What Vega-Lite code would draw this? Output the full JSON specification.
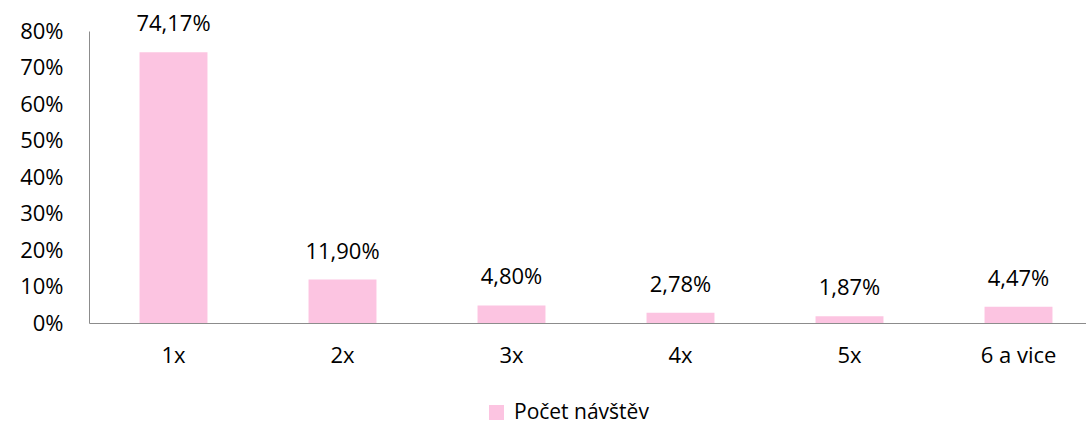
{
  "$schema": "https://vega.github.io/schema/vega-lite/v6.json",
  "width": 1014,
  "height": 292,
  "autosize": "none",
  "padding": {"left": 89, "top": 31, "right": -17, "bottom": 101},
  "background": "white",
  "config": {
    "locale": {"number": {"decimal": ",", "thousands": " ", "grouping": [3], "currency": ["", " Kč"]}},
    "view": {"stroke": null},
    "font": "Open Sans"
  },
  "data": {"values": [
    {"kat": "1x", "podil": 0.7417, "serie": "Počet návštěv"},
    {"kat": "2x", "podil": 0.1190, "serie": "Počet návštěv"},
    {"kat": "3x", "podil": 0.0480, "serie": "Počet návštěv"},
    {"kat": "4x", "podil": 0.0278, "serie": "Počet návštěv"},
    {"kat": "5x", "podil": 0.0187, "serie": "Počet návštěv"},
    {"kat": "6 a vice", "podil": 0.0447, "serie": "Počet návštěv"}
  ]},
  "encoding": {
    "x": {"field": "kat", "type": "nominal", "sort": null,
      "scale": {"paddingInner": 0.598, "paddingOuter": 0.299},
      "axis": {"title": null, "labelAngle": 0, "ticks": false, "domainColor": "#8c8c8c", "labelFontSize": 22, "labelColor": "#000000", "labelPadding": 22, "labelFont": "Open Sans"}},
    "y": {"field": "podil", "type": "quantitative",
      "scale": {"domain": [0, 0.8]},
      "axis": {"title": null, "format": ".0%", "values": [0, 0.1, 0.2, 0.3, 0.4, 0.5, 0.6, 0.7, 0.8], "grid": false, "ticks": false, "domainColor": "#8c8c8c", "labelFontSize": 22, "labelColor": "#000000", "labelPadding": 26, "labelFont": "Open Sans"}}
  },
  "layer": [
    {"mark": {"type": "bar", "color": "#fcc4e1"},
     "encoding": {"color": {"field": "serie", "type": "nominal", "scale": {"range": ["#fcc4e1"]},
       "legend": {"title": null, "orient": "none", "legendX": 397, "legendY": 371, "direction": "horizontal", "symbolType": "square", "symbolSize": 225, "symbolStrokeWidth": 0, "labelFontSize": 21, "labelColor": "#000000", "labelFont": "Open Sans", "labelOffset": 7}}}},
    {"mark": {"type": "text", "baseline": "middle", "dy": -28, "fontSize": 22, "color": "#000000", "font": "Open Sans"},
     "encoding": {"text": {"field": "podil", "type": "quantitative", "format": ".2%"}}}
  ]
}
